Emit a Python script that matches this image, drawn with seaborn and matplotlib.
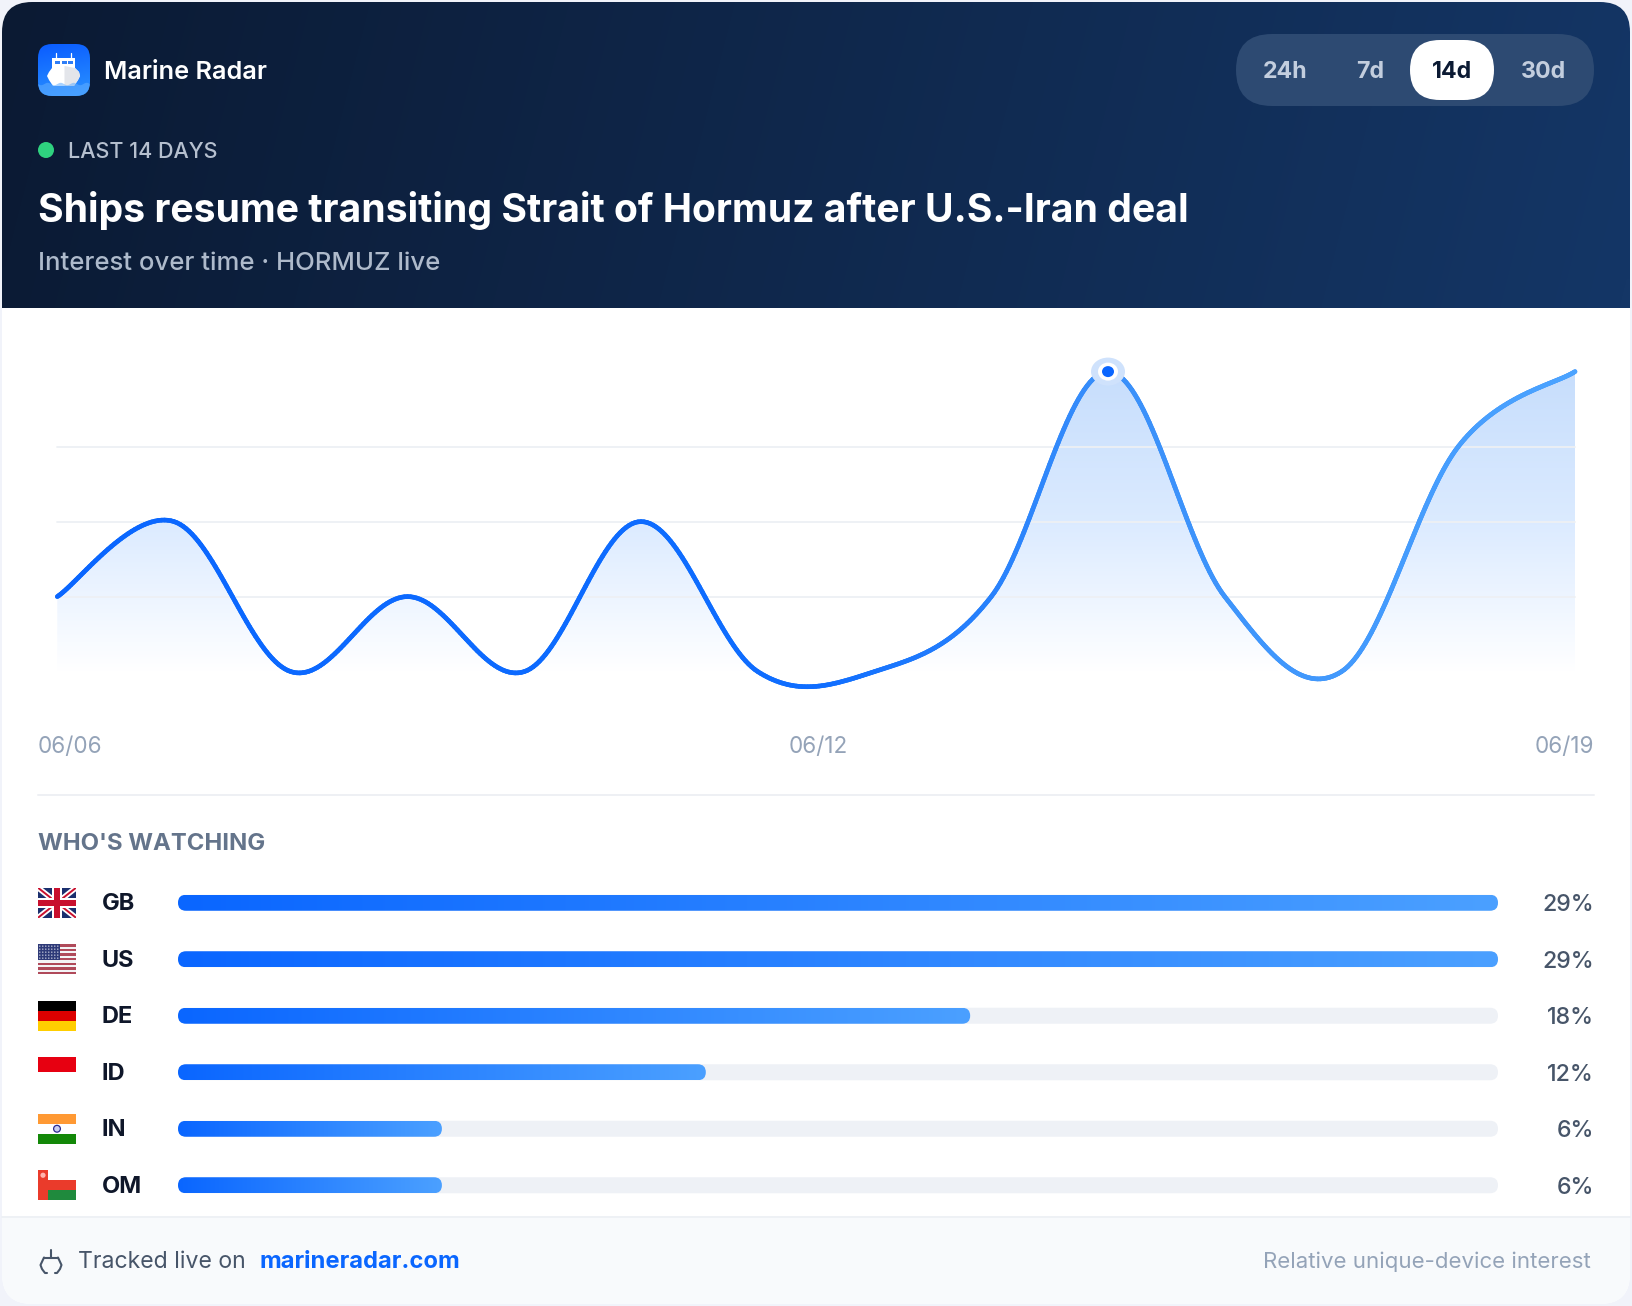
import numpy as np
import pandas as pd
import matplotlib
matplotlib.use("Agg")
import matplotlib.pyplot as plt
import seaborn as sns
from matplotlib.patches import FancyBboxPatch, Rectangle, Circle, Ellipse, Polygon
from matplotlib.collections import LineCollection
from matplotlib.colors import LinearSegmentedColormap

# ---- data ----
days = list(range(14))
interest = [40, 60, 20, 40, 20, 60, 20, 20, 40, 100, 40, 20, 80, 100]
grid_values = [40, 60, 80]
date_labels = ["06/06", "06/12", "06/19"]
countries = ["GB", "US", "DE", "ID", "IN", "OM"]
shares = [29.41, 29.41, 17.65, 11.76, 5.88, 5.88]
share_labels = ["29%", "29%", "18%", "12%", "6%", "6%"]
ranges = ["24h", "7d", "14d", "30d"]

W, H = 1632, 1306
sns.set_theme(style="white")
FONT = ["Inter", "DejaVu Sans"]
plt.rcParams["font.family"] = FONT

fig = plt.figure(figsize=(W / 100, H / 100), dpi=100, facecolor="#f1f3fa")


def px_axes(l, t, r, b):
    return fig.add_axes([l / W, 1 - b / H, (r - l) / W, (b - t) / H])


bg = px_axes(0, 0, W, H)
bg.set_axis_off()
bg.set_xlim(0, W)
bg.set_ylim(H, 0)
bg.set_autoscale_on(False)


def hgrad(extent, c0, c1, clip, angle=0.0, z=1):
    cm = LinearSegmentedColormap.from_list("g", [c0, c1])
    ny, nx = 64, 256
    xx, yy = np.meshgrid(np.linspace(0, 1, nx), np.linspace(0, 1, ny))
    w, h = extent[1] - extent[0], abs(extent[3] - extent[2])
    a = np.radians(angle)
    v = xx * w * np.cos(a) + yy * h * np.sin(a)
    v = (v - v.min()) / (v.max() - v.min())
    im = bg.imshow(v, cmap=cm, extent=extent, aspect="auto", zorder=z,
                   interpolation="bilinear", origin="upper")
    im.set_clip_path(clip)
    return im


def rrect(x0, y0, x1, y1, r, **kw):
    return FancyBboxPatch((x0 + r, y0 + r), x1 - x0 - 2 * r, y1 - y0 - 2 * r,
                          boxstyle=f"round,pad={r},rounding_size={r}",
                          mutation_aspect=1, **kw)


# card
bg.add_patch(rrect(2, 2, W - 2, H - 2, 30, fc="white", ec="none", zorder=0))

# header
hdr_clip = rrect(2, 2, W - 2, 348, 30, fc="none", ec="none")
bg.add_patch(hdr_clip)
hgrad((2, W - 2, 308, 2), "#0b1a33", "#143666", hdr_clip, angle=14, z=1)
bg.add_patch(Rectangle((2, 308), W - 4, 45, fc="white", ec="none", zorder=1.2))

# footer
foot_clip = rrect(2, 1100, W - 2, H - 2, 30, fc="none", ec="none")
bg.add_patch(foot_clip)
foot = Rectangle((0, 1217), W, H, fc="#f8fafc", ec="none", zorder=1)
bg.add_patch(foot)
foot.set_clip_path(foot_clip)
bg.plot([2, W - 2], [1217, 1217], color="#eef1f5", lw=1.4, zorder=1.1)
bg.plot([38, 1594], [795, 795], color="#eef0f4", lw=1.4, zorder=1.1)

# app icon
ic_clip = rrect(38, 44, 90, 96, 14, fc="none", ec="none")
bg.add_patch(ic_clip)
hgrad((38, 90, 96, 44), "#0a5cff", "#2b93ff", ic_clip, angle=80, z=2)
bg.add_patch(Rectangle((52, 58), 23, 11, fc="white", ec="none", zorder=3))
bg.add_patch(Polygon([[47, 76], [49, 72], [52, 68], [75, 68], [79, 72], [80, 76], [78, 80], [74, 86], [53, 86], [49, 80]],
                     closed=True, fc="white", ec="none", zorder=3))
bg.add_patch(Polygon([[64.5, 66], [75, 68], [79, 72], [80, 76], [78, 80], [74, 86], [64.5, 86]],
                     closed=True, fc="#e3e5ea", ec="none", zorder=3.1))
for xx in (55, 61.5, 68):
    bg.add_patch(Rectangle((xx, 60.5), 5, 3.5, fc="#2f7df6", ec="none", zorder=3.2))
bg.plot([56, 56], [53, 58], color="white", lw=0.9, zorder=3)
bg.plot([71, 71], [53, 58], color="white", lw=0.9, zorder=3)
wx = np.linspace(38, 90, 80)
wy = 84 + 1.2 * np.sin((wx - 38) / 52 * 4 * 2 * np.pi)
wave = Polygon(np.r_[np.c_[wx, wy], [[90, 96], [38, 96]]], closed=True, fc="#62aeff",
               ec="none", zorder=3.3, alpha=0.55)
bg.add_patch(wave)
wave.set_clip_path(ic_clip)


def T(x, y, s, size, color, weight="normal", ha="left", **kw):
    return bg.text(x, y, s, fontsize=size, color=color, fontweight=weight, ha=ha,
                   va="center_baseline", zorder=6, **kw)


T(104, 70, "Marine Radar", 18.2, "white", "semibold")
bg.add_patch(Circle((46, 150), 8, fc="#2fd27f", ec="none", zorder=5))
T(68.5, 150, "LAST 14 DAYS", 15.5, "#b6c0cf", "medium")
T(38.5, 207, "Ships resume transiting Strait of Hormuz after U.S.-Iran deal", 28.2, "white", "bold")
T(38.5, 261, "Interest over time · HORMUZ live", 18.5, "#aebacb", "medium")

# range pill
bg.add_patch(rrect(1236, 34, 1594, 106, 36, fc="#2d4a72", ec="none", zorder=2))
bg.add_patch(rrect(1410, 40, 1494, 100, 30, fc="white", ec="none", zorder=3))
for lab, cx in zip(ranges, [1285.5, 1370, 1452, 1543]):
    active = lab == "14d"
    T(cx, 70, lab, 16.7, "#0b1a33" if active else "#c3cede", "bold", ha="center")

# ---- interest chart ----
x0, x1 = 57.3, 1575.0
ytop, ybot = 340.0, 700.0
y100, per_unit = 371.6, 75.0 / 20.0
ax = px_axes(x0, ytop, x1, ybot)
ax.patch.set_alpha(0)
ax.set_axis_off()
ax.set_xlim(days[0], days[-1])
ax.set_ylim(100 - (ybot - y100) / per_unit, 100 + (y100 - ytop) / per_unit)


def spline(xs, ys, t=0.35, n=40):
    """Cubic Bezier smoothing through the read values (as the source's line tension)."""
    xs, ys = np.asarray(xs, float), np.asarray(ys, float)
    m = np.zeros_like(ys)
    m[1:-1] = (ys[2:] - ys[:-2]) * t / 2
    m[0] = (ys[1] - ys[0]) * t / 2
    m[-1] = (ys[-1] - ys[-2]) * t / 2
    ox, oy = [], []
    for i in range(len(xs) - 1):
        u = np.linspace(0, 1, n, endpoint=False)
        p0, p3 = ys[i], ys[i + 1]
        p1, p2 = p0 + m[i], p3 - m[i + 1]
        oy.append((1 - u) ** 3 * p0 + 3 * (1 - u) ** 2 * u * p1 + 3 * (1 - u) * u ** 2 * p2 + u ** 3 * p3)
        q0, q3 = xs[i], xs[i + 1]
        d = (q3 - q0) * t
        q1 = q0 + (d if i else d / 2)
        q2 = q3 - (d if i < len(xs) - 2 else d / 2)
        ox.append((1 - u) ** 3 * q0 + 3 * (1 - u) ** 2 * u * q1 + 3 * (1 - u) * u ** 2 * q2 + u ** 3 * q3)
    return np.r_[np.concatenate(ox), xs[-1]], np.r_[np.concatenate(oy), ys[-1]]


sx, sy = spline(days, interest)
floor = ax.get_ylim()[0]

for g in grid_values:
    ax.axhline(g, color="#edf0f4", lw=1.3, zorder=1)

# area fill
fill_poly = ax.fill_between(sx, sy, floor, color="none", lw=0)
area_cm = LinearSegmentedColormap.from_list(
    "a", [(0.78, 0.87, 0.99, 1.0), (0.86, 0.92, 1.0, 1.0), (1, 1, 1, 1)])
v = np.linspace(0, 1, 256)[:, None]
area = ax.imshow(v, cmap=area_cm, aspect="auto", origin="upper", zorder=0.5,
                 extent=(days[0], days[-1], 20, max(interest)))
area.set_clip_path(fill_poly.get_paths()[0], transform=ax.transData)
ax.set_xlim(days[0], days[-1])
ax.set_ylim(100 - (ybot - y100) / per_unit, 100 + (y100 - ytop) / per_unit)

df = pd.DataFrame({"day": sx, "value": sy})
sns.lineplot(data=df, x="day", y="value", ax=ax, color="#2f86f8", lw=3.3, zorder=3,
             solid_capstyle="round", errorbar=None, estimator=None, sort=False)
ax.set_axis_off()
pts = np.c_[sx, sy]
seg = np.stack([pts[:-1], pts[1:]], axis=1)
line_cm = LinearSegmentedColormap.from_list(
    "l", [(0, "#0a66ff"), (0.5, "#0f6dff"), (0.7, "#3a90fa"), (1, "#4ba3ff")])
lc = LineCollection(seg, cmap=line_cm, array=sx[:-1], lw=3.3, zorder=4, capstyle="round")
ax.add_collection(lc)
for ln in ax.lines:
    ln.set_clip_on(False)
lc.set_clip_on(False)

i_pk = int(np.argmax(interest))
pk_px = ax.transData.transform((days[i_pk], interest[i_pk]))
for w_, h_, c_, z_ in [(34, 28, "#cfe2fc", 5), (20, 18, "white", 6), (12, 11, "#0a66ff", 7)]:
    ax.add_patch(Ellipse(pk_px, w_, h_, fc=c_, ec="none", zorder=z_,
                         transform=None, clip_on=False))

T(38, 744.5, date_labels[0], 16.2, "#94a3b8")
T(818, 744.5, date_labels[1], 16.2, "#94a3b8", ha="center")
T(1594, 744.5, date_labels[2], 16.2, "#94a3b8", ha="right")

T(38.5, 841, "WHO'S WATCHING", 17.2, "#64748b", "bold")

# ---- bars ----
bar_top, bar_bot = 874.5, 1213.5
bx = px_axes(178, bar_top, 1498, bar_bot)
bx.patch.set_alpha(0)
tf = pd.DataFrame({"country": countries, "share": shares})
sns.barplot(data=tf, y="country", x="share", ax=bx, color="#0a66ff", width=16 / 56.5,
            orient="h", errorbar=None)
bx.set_xlim(0, max(shares))
bx.set_ylim(len(countries) - 0.5, -0.5)
bx.set_axis_off()
to_px = bx.transData + bg.transData.inverted()
centers = []
for p, code, lab in zip(list(bx.patches), countries, share_labels):
    (a, b) = to_px.transform((p.get_x(), p.get_y()))
    (c, d) = to_px.transform((p.get_x() + p.get_width(), p.get_y() + p.get_height()))
    p.set_visible(False)
    t0, t1 = min(b, d), max(b, d)
    cy = (t0 + t1) / 2
    centers.append(cy)
    bg.add_patch(rrect(178, t0, 1498, t1, 8, fc="#eef1f6", ec="none", zorder=2))
    clip = rrect(a, t0, c, t1, 8, fc="none", ec="none")
    bg.add_patch(clip)
    hgrad((a, c, t1, t0), "#0a66ff", "#4ba0ff", clip, z=3)
    T(101.5, cy - 1, code, 17, "#0f172a", "bold")
    T(1594, cy, lab, 16.7, "#475569", "medium", ha="right")


def R(x, y, w, h, c, z=3, clip=None):
    r = Rectangle((x, y), w, h, fc=c, ec="none", zorder=z)
    bg.add_patch(r)
    if clip is not None:
        r.set_clip_path(clip)
    return r


fx, fw, fh = 38, 38, 30
tops = [c - 15 for c in centers]
# GB
f = tops[0]
fclip = Rectangle((fx, f), fw, fh, fc="none", ec="none")
bg.add_patch(fclip)
R(fx, f, fw, fh, "#1b2f6e")
for (a, b, c, d) in [(fx, f, fx + fw, f + fh), (fx, f + fh, fx + fw, f)]:
    l, = bg.plot([a, c], [b, d], color="white", lw=4, zorder=3.1, solid_capstyle="butt")
    l.set_clip_path(fclip)
    l, = bg.plot([a, c], [b, d], color="#c8102e", lw=1.4, zorder=3.2, solid_capstyle="butt")
    l.set_clip_path(fclip)
R(fx + fw / 2 - 5, f, 10, fh, "white", 3.3)
R(fx, f + fh / 2 - 5, fw, 10, "white", 3.3)
R(fx + fw / 2 - 3, f, 6, fh, "#c8102e", 3.4)
R(fx, f + fh / 2 - 3, fw, 6, "#c8102e", 3.4)
# US
f = tops[1]
for i in range(13):
    R(fx, f + i * fh / 13, fw, fh / 13, "#b04a5a" if i % 2 == 0 else "#f4f4f6")
R(fx, f, fw * 0.58, fh * 7 / 13, "#2e3a78", 3.2)
for j in range(5):
    for i in range(7):
        bg.add_patch(Circle((fx + 1.8 + i * 3, f + 1.9 + j * 3), 0.65, fc="#e8ebf4", ec="none", zorder=3.3))
# DE
f = tops[2]
for i, c in enumerate(["#000000", "#dd0000", "#ffce00"]):
    R(fx, f + i * fh / 3, fw, fh / 3, c)
# ID
f = tops[3]
R(fx, f, fw, fh / 2, "#e70011")
# IN
f = tops[4]
for i, c in enumerate(["#ff9933", "#ffffff", "#138808"]):
    R(fx, f + i * fh / 3, fw, fh / 3, c)
bg.add_patch(Circle((fx + fw / 2, f + fh / 2), 3.4, fc="#c9cdf0", ec="#2a2a90", lw=0.9, zorder=4))
# OM
f = tops[5]
R(fx, f, fw, fh, "#ffffff")
R(fx, f + fh / 3, fw, fh / 3, "#ea3b2b")
R(fx, f + 2 * fh / 3, fw, fh / 3, "#1f8a3d")
R(fx, f, 10, fh, "#ea3b2b", 3.2)
bg.add_patch(Circle((fx + 5, f + 5), 2.6, fc="#ffb3ad", ec="none", zorder=3.4))

# footer content
cx = 51
bg.plot([cx, cx], [1250, 1258], color="#475569", lw=1.5, zorder=5)
bg.plot([cx - 7, cx + 7], [1257.5, 1257.5], color="#475569", lw=1.5, zorder=5)
bg.plot([cx - 7, cx - 10.5, cx - 9, cx - 6, cx - 4], [1257.5, 1265, 1269, 1273, 1273], color="#475569", lw=1.5, zorder=5)
bg.plot([cx + 7, cx + 10.5, cx + 9, cx + 6, cx + 4], [1257.5, 1265, 1269, 1273, 1273], color="#475569", lw=1.5, zorder=5)
T(78, 1260, "Tracked live on", 16.6, "#475569")
T(259.5, 1260, "marineradar.com", 17.1, "#0a66ff", "bold")
T(1591, 1260, "Relative unique-device interest", 16, "#94a3b8", ha="right")

fig.savefig("out.png", dpi=100, facecolor=fig.get_facecolor())
